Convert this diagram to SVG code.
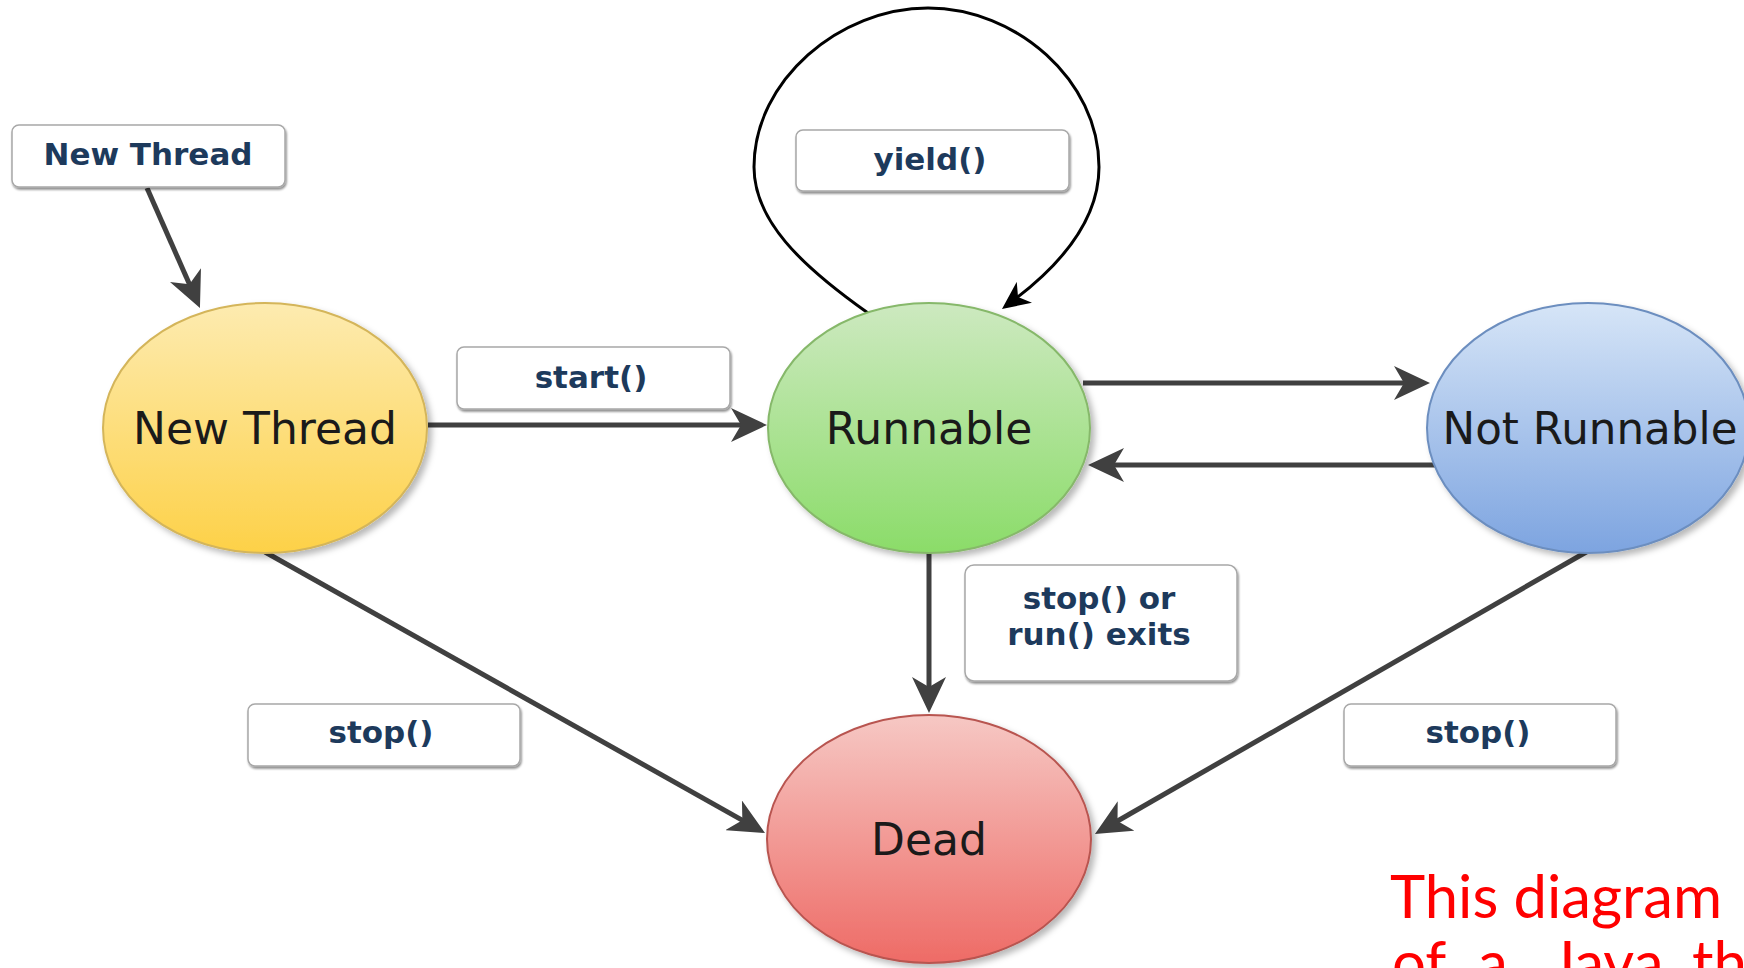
<svg xmlns="http://www.w3.org/2000/svg" width="1744" height="968" viewBox="0 0 1744 968">
  <style>
    .state { stroke-width: 2; }
    .state-text { font-family: "DejaVu Sans", Verdana, sans-serif; font-size: 44px; fill: #1a1a1a; text-anchor: middle; }
    .label-box { fill: #ffffff; stroke: #a8a8a8; stroke-width: 1.5; }
    .label-text { font-family: "DejaVu Sans", Verdana, sans-serif; font-weight: bold; font-size: 31px; fill: #1d3a5c; text-anchor: middle; }
    .edge { fill: none; stroke: #404040; stroke-width: 5; }
    .loop { fill: none; stroke: #000000; stroke-width: 3; }
    .note { font-family: Lato, "Liberation Sans", sans-serif; font-size: 60px; fill: #ff0000; }
  </style>
  <defs>
    <linearGradient id="gYellow" x1="0" y1="0" x2="0" y2="1">
      <stop offset="0" stop-color="#fdebb0"/>
      <stop offset="1" stop-color="#fdd148"/>
    </linearGradient>
    <linearGradient id="gGreen" x1="0" y1="0" x2="0" y2="1">
      <stop offset="0" stop-color="#cde9c0"/>
      <stop offset="1" stop-color="#8bdc69"/>
    </linearGradient>
    <linearGradient id="gBlue" x1="0" y1="0" x2="0" y2="1">
      <stop offset="0" stop-color="#d6e5f7"/>
      <stop offset="1" stop-color="#7da4e0"/>
    </linearGradient>
    <linearGradient id="gRed" x1="0" y1="0" x2="0" y2="1">
      <stop offset="0" stop-color="#f6c8c4"/>
      <stop offset="1" stop-color="#ee6b66"/>
    </linearGradient>
    <filter id="shadow" x="-20%" y="-20%" width="150%" height="150%">
      <feDropShadow dx="4" dy="4" stdDeviation="3" flood-color="#000000" flood-opacity="0.28"/>
    </filter>
    <filter id="boxShadow" x="-10%" y="-10%" width="120%" height="130%">
      <feDropShadow dx="1" dy="2" stdDeviation="1" flood-color="#000000" flood-opacity="0.45"/>
    </filter>
    <marker id="arrow" markerUnits="userSpaceOnUse" viewBox="0 0 36 34" markerWidth="36" markerHeight="34" refX="22" refY="17" orient="auto">
      <path d="M36,17 L0,0 L10,17 L0,34 Z" fill="#404040"/>
    </marker>
    <marker id="arrowBlack" markerUnits="userSpaceOnUse" viewBox="0 0 28 26" markerWidth="28" markerHeight="26" refX="18" refY="13" orient="auto">
      <path d="M28,13 L0,0 L8,13 L0,26 Z" fill="#000000"/>
    </marker>
  </defs>

  <!-- connectors -->
  <g id="connectors">
    <path class="edge" d="M147,188 L194.3,295.2" marker-end="url(#arrow)"/>
    <path class="edge" d="M428,425 L753,425" marker-end="url(#arrow)"/>
    <path class="edge" d="M1083,383 L1416,383" marker-end="url(#arrow)"/>
    <path class="edge" d="M1437,465 L1102,465" marker-end="url(#arrow)"/>
    <path class="edge" d="M929,553 L929,699" marker-end="url(#arrow)"/>
    <path class="edge" d="M265,552 L752.8,826.1" marker-end="url(#arrow)"/>
    <path class="edge" d="M1588,551 L1107.1,827" marker-end="url(#arrow)"/>
    <path class="loop" d="M868,313 C800,265 754,220 754,167 C754,80 840,8 928,8 C1016,8 1099,80 1099,167 C1099,220 1060,266 1010,303" marker-end="url(#arrowBlack)"/>
  </g>

  <!-- states -->
  <g id="state-new">
    <ellipse class="state" cx="265" cy="428" rx="162" ry="125" fill="url(#gYellow)" stroke="#d4b55a" filter="url(#shadow)"/>
    <text class="state-text" x="265" y="444">New Thread</text>
  </g>
  <g id="state-runnable">
    <ellipse class="state" cx="929" cy="428" rx="161" ry="125" fill="url(#gGreen)" stroke="#86b86a" filter="url(#shadow)"/>
    <text class="state-text" x="929" y="444">Runnable</text>
  </g>
  <g id="state-not-runnable">
    <ellipse class="state" cx="1588" cy="428" rx="161" ry="125" fill="url(#gBlue)" stroke="#6c8ebf" filter="url(#shadow)"/>
    <text class="state-text" x="1590" y="444" textLength="295" lengthAdjust="spacingAndGlyphs">Not Runnable</text>
  </g>
  <g id="state-dead">
    <ellipse class="state" cx="929" cy="839" rx="162" ry="124" fill="url(#gRed)" stroke="#b85450" filter="url(#shadow)"/>
    <text class="state-text" x="929" y="855">Dead</text>
  </g>

  <!-- transition labels -->
  <g id="label-new-thread">
    <rect class="label-box" x="12" y="125" width="273" height="62" rx="7" filter="url(#boxShadow)"/>
    <text class="label-text" x="148" y="165">New Thread</text>
  </g>
  <g id="label-yield">
    <rect class="label-box" x="796" y="130" width="273" height="61" rx="7" filter="url(#boxShadow)"/>
    <text class="label-text" x="930" y="170">yield()</text>
  </g>
  <g id="label-start">
    <rect class="label-box" x="457" y="347" width="273" height="62" rx="7" filter="url(#boxShadow)"/>
    <text class="label-text" x="591" y="388">start()</text>
  </g>
  <g id="label-stop-or-exit">
    <rect class="label-box" x="965" y="565" width="272" height="116" rx="9" filter="url(#boxShadow)"/>
    <text class="label-text" x="1099" y="609">stop() or</text>
    <text class="label-text" x="1099" y="645">run() exits</text>
  </g>
  <g id="label-stop-left">
    <rect class="label-box" x="248" y="704" width="272" height="62" rx="7" filter="url(#boxShadow)"/>
    <text class="label-text" x="381" y="743">stop()</text>
  </g>
  <g id="label-stop-right">
    <rect class="label-box" x="1344" y="704" width="272" height="62" rx="7" filter="url(#boxShadow)"/>
    <text class="label-text" x="1478" y="743">stop()</text>
  </g>

  <!-- caption in red at the lower right, cut by the page edge -->
  <g id="caption">
    <text class="note" x="1390" y="918" textLength="332" lengthAdjust="spacingAndGlyphs">This diagram</text>
    <text class="note" y="984"><tspan x="1392">of</tspan><tspan x="1478">a</tspan><tspan x="1550">Java</tspan><tspan x="1692">th</tspan></text>
  </g>
</svg>
